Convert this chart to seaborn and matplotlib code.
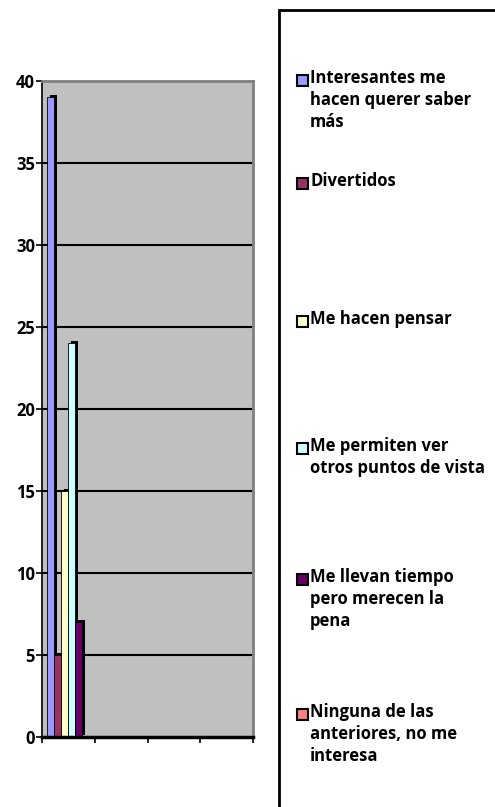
import pandas as pd
import matplotlib.pyplot as plt
import matplotlib.patheffects as pe
from matplotlib.patches import Rectangle
import seaborn as sns

# Data
respuestas = [
    'Interesantes me\nhacen querer saber\nmás',
    'Divertidos',
    'Me hacen pensar',
    'Me permiten ver\notros puntos de vista',
    'Me llevan tiempo\npero merecen la\npena',
    'Ninguna de las\nanteriores, no me\ninteresa',
]
valores = [39, 5, 15, 24, 7, 0]
colores = ['#9999FF', '#993366', '#FFFFCC', '#CCFFFF', '#660066', '#FF8080']
y_ticks = [0, 5, 10, 15, 20, 25, 30, 35, 40]

df = pd.DataFrame({'grupo': ['1'] * len(respuestas),
                   'respuesta': respuestas,
                   'valor': valores})

sns.set_theme(style='white')
plt.rcParams['font.family'] = ['Open Sans', 'DejaVu Sans']
plt.rcParams['text.color'] = 'black'
plt.rcParams['ytick.labelcolor'] = 'black'

fig = plt.figure(figsize=(4.95, 8.07), dpi=100)
W, H = 495, 807
ax = fig.add_axes([42 / W, 1 - 737 / H, 211 / W, (737 - 81) / H])
ax.set_facecolor('#C0C0C0')

# Gridlines first, below the bars
for v in y_ticks[1:-1]:
    ax.axhline(v, color='black', lw=1.5, zorder=0.5)

sns.barplot(data=df, x='grupo', y='valor', hue='respuesta', hue_order=respuestas,
            palette=colores, width=0.8, dodge=True, legend=False, ax=ax,
            edgecolor='black', linewidth=0.6, saturation=1)

for bar in ax.patches:
    bar.set_zorder(2)
    bar.set_path_effects([pe.SimplePatchShadow(offset=(2.2, 1.6), shadow_rgbFace='black', alpha=1),
                          pe.Normal()])

ax.set_xlim(-0.5, 3.5)
ax.set_ylim(0, 40)
ax.set_xticks([-0.5, 0.5, 1.5, 2.5, 3.5])
ax.set_xticklabels([])
ax.set_yticks(y_ticks)
ax.set_yticklabels([str(t) for t in y_ticks], fontsize=12, fontweight='bold', color='black')
ax.set_xlabel('')
ax.set_ylabel('')
ax.tick_params(axis='both', direction='out', length=4, width=1.2, color='black',
               left=True, bottom=True, pad=1)

for side in ['top', 'right']:
    ax.spines[side].set_color('#808080')
    ax.spines[side].set_linewidth(2)
ax.spines['left'].set_color('black')
ax.spines['left'].set_linewidth(1.2)
ax.spines['bottom'].set_color('black')
ax.spines['bottom'].set_linewidth(2.5)

# Legend box (drawn by hand so the squares line up with the first text line)
fig.patches.append(Rectangle((279 / W, -0.05), 0.6, 1 - 10 / H + 0.05,
                             transform=fig.transFigure, facecolor='white',
                             edgecolor='black', lw=2, zorder=0))
entry_y = [80, 183, 321, 448, 579, 714]
for label, color, yp in zip(respuestas, colores, entry_y):
    fig.patches.append(Rectangle((297 / W, 1 - (yp + 6) / H), 11 / W, 11 / H,
                                 transform=fig.transFigure, facecolor=color,
                                 edgecolor='black', lw=1.5, zorder=3))
    fig.text(310 / W, 1 - (yp - 11) / H, label, fontsize=12, fontweight='bold',
             color='black', va='top', ha='left', linespacing=1.3)

fig.savefig('out.png', dpi=100)
